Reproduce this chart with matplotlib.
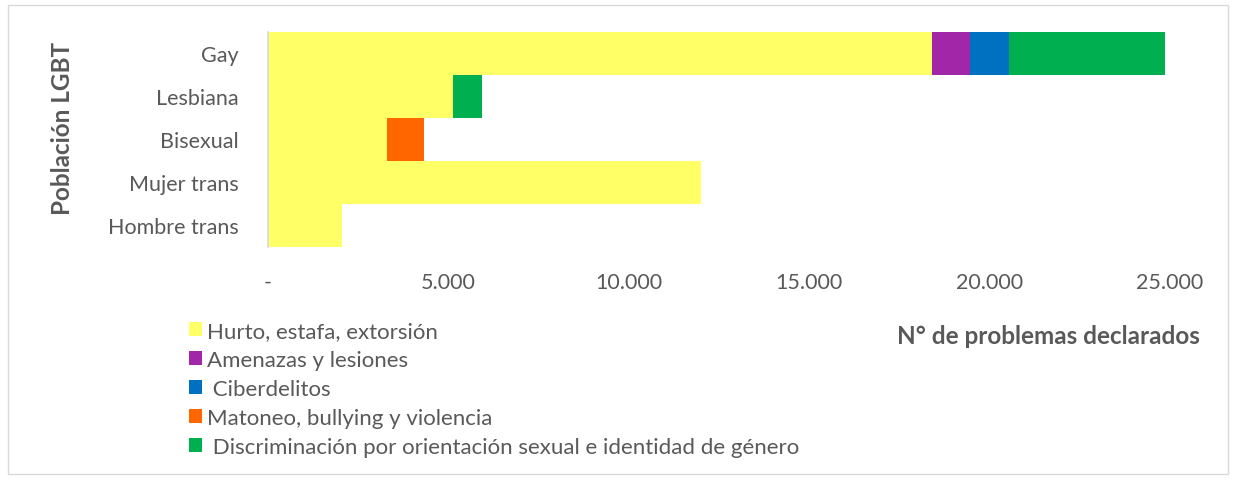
import numpy as np
import matplotlib
matplotlib.use("Agg")
import matplotlib.pyplot as plt
from matplotlib.patches import Patch, Rectangle
from matplotlib.ticker import FuncFormatter

plt.rcParams['font.family'] = ['Lato', 'DejaVu Sans']

# data
poblacion = ['Gay', 'Lesbiana', 'Bisexual', 'Mujer trans', 'Hombre trans']
hurto = [18390, 5120, 3300, 12010, 2050]
amenazas = [1080, 0, 0, 0, 0]
ciber = [1080, 0, 0, 0, 0]
matoneo = [0, 0, 1020, 0, 0]
discrim = [4300, 800, 0, 0, 0]

series = [hurto, amenazas, ciber, matoneo, discrim]
labels = ['Hurto, estafa, extorsión', 'Amenazas y lesiones', ' Ciberdelitos',
          'Matoneo, bullying y violencia',
          ' Discriminación por orientación sexual e identidad de género']
colors = ['#FFFF66', '#A126A8', '#0070C0', '#FF6600', '#00B050']
xticks = [0, 5000, 10000, 15000, 20000, 25000]

gray = '#595959'

fig = plt.figure(figsize=(12.36, 4.81), dpi=100)
ax = fig.add_axes([268/1236, 1-248/481, (1170-268)/1236, (248-33)/481])

y = np.arange(len(poblacion))
left = np.zeros(len(poblacion))
for vals, c in zip(series, colors):
    vals = np.array(vals, dtype=float)
    ax.barh(y, vals, left=left, height=1.0, color=c, edgecolor='none')
    left += vals

ax.set_ylim(len(poblacion) - 0.5, -0.5)
ax.set_xlim(0, 25000)
ax.set_yticks(y)
ax.set_yticklabels(poblacion)
ax.set_xticks(xticks)
ax.xaxis.set_major_formatter(FuncFormatter(
    lambda v, p: '-' if v == 0 else f'{int(v):,}'.replace(',', '.')))
ax.tick_params(axis='x', length=0, pad=18, labelsize=15.5, labelcolor=gray)
ax.tick_params(axis='y', length=0, pad=21, labelsize=15.5, labelcolor=gray)

for s in ['top', 'right', 'bottom']:
    ax.spines[s].set_visible(False)
ax.spines['left'].set_color('#D9D9D9')
ax.spines['left'].set_linewidth(1.2)

fig.text(62/1236, 1-128/481, 'Población LGBT', rotation=90, ha='center', va='center',
         fontsize=17.5, fontweight='bold', color=gray)
fig.text(1200/1236, 1-336/481, 'N° de problemas declarados', ha='right', va='center',
         fontsize=17.5, fontweight='bold', color=gray)

handles = [Patch(facecolor=c, edgecolor='none') for c in colors]
fig.legend(handles, labels, loc='upper left', bbox_to_anchor=(189/1236, 1-322/481),
           frameon=False, fontsize=16, labelcolor=gray, handlelength=0.6,
           handleheight=0.6, handletextpad=0.2, labelspacing=0.4, borderpad=0,
           borderaxespad=0)

fig.patches.append(Rectangle((8/1236, 6/481), 1220/1236, 469/481, transform=fig.transFigure,
                             fill=False, edgecolor='#D9D9D9', linewidth=1))

fig.savefig('out.png', dpi=100)
